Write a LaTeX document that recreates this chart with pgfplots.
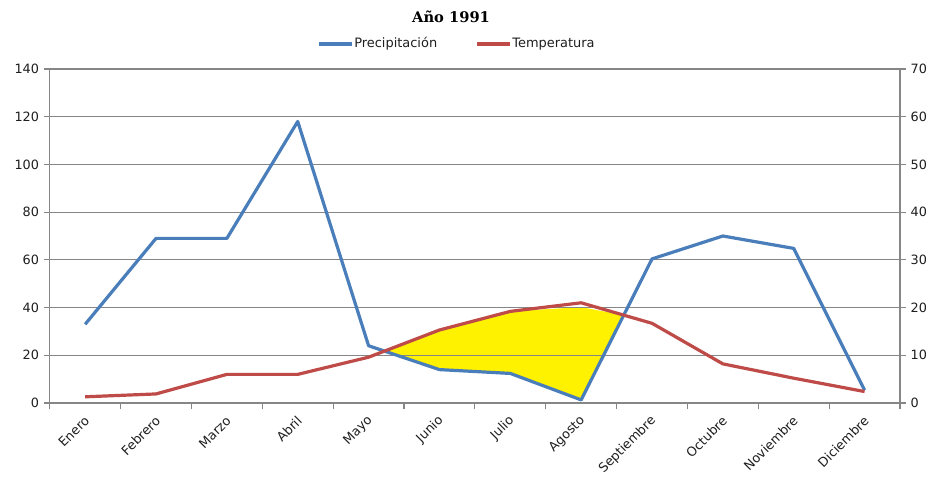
\documentclass[border=0pt]{standalone}
\usepackage{fontspec}
\setmainfont{DejaVu Sans}
\newfontfamily\titlefont{DejaVu Serif}
\usepackage{pgfplots}
\pgfplotsset{compat=1.18}

\definecolor{precip}{RGB}{74,126,187}
\definecolor{temp}{RGB}{190,75,72}
\definecolor{dry}{RGB}{255,242,0}
\definecolor{gridgray}{RGB}{134,134,134}
\definecolor{labelgray}{RGB}{30,30,30}

\pgfplotsset{
  climo/.style={
    scale only axis, width=637.7pt, height=250.5pt,
    at={(0,0)}, anchor=south west,
    xmin=-0.5, xmax=11.5,
    /pgf/number format/assume math mode=true,
    ticklabel style={font=\fontsize{9.6}{11}\selectfont, text=labelgray},
    axis line style={gridgray, line width=0.8pt},
    tick align=outside, major tick length=4.5pt,
  },
}

\begin{document}
\begin{tikzpicture}
\path[use as bounding box] (-37.3pt,-57pt) rectangle (660.2pt,302.25pt);

% dry months: temperature (x2) above precipitation
\begin{axis}[climo, ymin=0, ymax=140, hide axis]
  \addplot[fill=dry, draw=none] coordinates {
    (4.22,21.8) (5,30.6) (6,38.4) (7,40.2) (7.6,36.8)
    (7,1.3) (6,12.4) (5,14) (4.22,21.8)};
\end{axis}

% precipitation, left axis
\begin{axis}[climo, ymin=0, ymax=140, ytick={0,20,...,140},
    ytick pos=left, xtick pos=bottom,
    ymajorgrids, grid style={gridgray, line width=0.8pt},
    ytick style={draw=gridgray, line width=0.8pt},
    xtick={0,...,11},
    xticklabels={Enero,Febrero,Marzo,Abril,Mayo,Junio,Julio,Agosto,Septiembre,Octubre,Noviembre,Diciembre},
    xtick style={draw=none},
    extra x ticks={-0.5,0.5,...,11.5}, extra x tick labels={},
    extra x tick style={xtick pos=bottom, xtick style={draw=gridgray, line width=0.8pt}},
    xticklabel style={xshift=2.1pt, yshift=-6.4pt, rotate=45, anchor=east, inner sep=1pt},
    title={\titlefont\bfseries Año 1991},
    title style={at={(0.472,1.132)}, anchor=center, font=\fontsize{11}{13}\selectfont},
    legend columns=2,
    legend style={draw=none, fill=none, at={(0.478,1.075)}, anchor=center,
      font=\fontsize{9.7}{11}\selectfont, text=labelgray,
      /tikz/every even column/.append style={column sep=28pt},
      inner sep=0pt, nodes={inner sep=0.5pt, text height=1.6ex, text depth=0.5ex}},
    legend image code/.code={\draw[#1] (0pt,0pt) -- (25pt,0pt);},
  ]
  \addplot[precip, line width=2.4pt, line join=round] coordinates {
    (0,33) (1,69) (2,69) (3,118) (4,24) (5,14)
    (6,12.4) (7,1.3) (8,60.4) (9,70) (10,64.8) (11,5.4)};
  \addlegendentry{Precipitación}
  \addlegendimage{temp, line width=2.4pt}
  \addlegendentry{Temperatura}
\end{axis}

% temperature, right axis
\begin{axis}[climo, ymin=0, ymax=70, ytick={0,10,...,70},
    axis y line*=right, axis x line=none,
    ytick style={draw=gridgray, line width=0.8pt},
  ]
  \addplot[temp, line width=2.4pt, line join=round] coordinates {
    (0,1.3) (1,1.9) (2,6.0) (3,6.0) (4,9.6) (5,15.3)
    (6,19.2) (7,21.0) (8,16.7) (9,8.2) (10,5.2) (11,2.4)};
\end{axis}
\end{tikzpicture}
\end{document}
